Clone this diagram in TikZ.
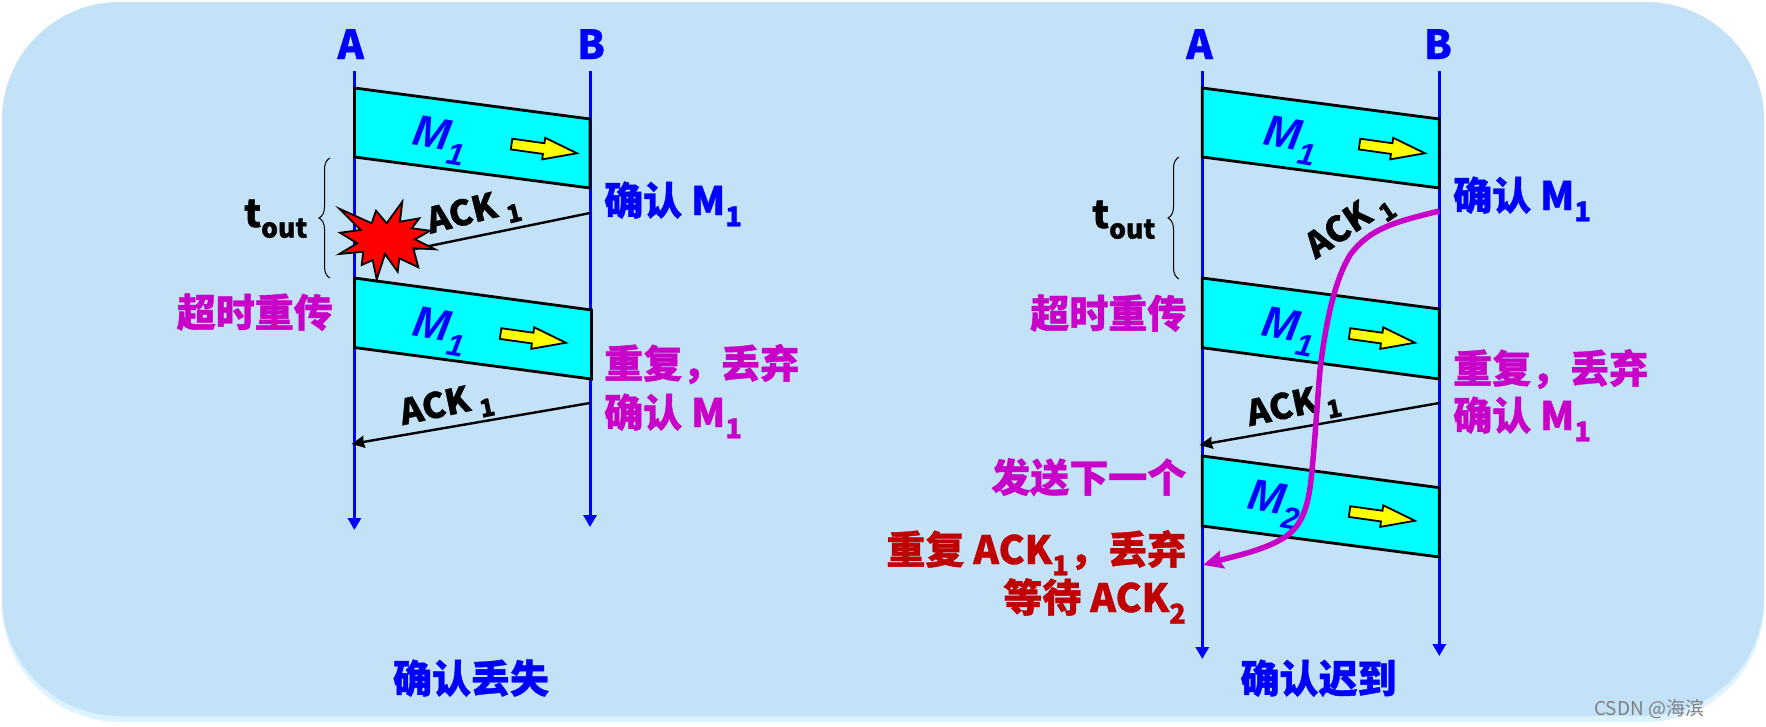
\documentclass[tikz,border=0pt]{standalone}
\usepackage{fontspec}
\setmainfont{Noto Sans CJK SC}[BoldFeatures={FakeBold=1}]
\newfontfamily\latinfont{Liberation Sans}
\usetikzlibrary{arrows.meta,shapes.arrows,decorations.pathreplacing}
\definecolor{panelblue}{HTML}{C3E2F7}
\definecolor{panelglow}{HTML}{DDF3FF}
\definecolor{labelpink}{HTML}{C800C8}
\definecolor{labelred}{HTML}{C00000}
\definecolor{linkblue}{HTML}{0000FF}
\definecolor{boxcyan}{HTML}{00FFFF}
\definecolor{markyellow}{HTML}{FFFF00}
\definecolor{burstred}{HTML}{FF0000}
\begin{document}
\begin{tikzpicture}[
      x=1pt, y=-1pt,
      every node/.style={inner sep=0pt, font=\fontsize{39}{44}\selectfont\bfseries},
      panel/.style={rounded corners=118pt, minimum width=1762pt},
      timeline/.style={draw=linkblue, line width=3pt, -{Triangle[length=12pt,width=13pt]}},
      msgbox/.style={draw=black, fill=boxcyan, line width=2.8pt, line join=miter},
      ackline/.style={draw=black, line width=2.4pt},
      ackarrow/.style={ackline, -{Stealth[length=13pt,width=12pt,inset=1pt]}},
      lateline/.style={draw=labelpink, line width=5.5pt, -{Stealth[length=20pt,width=18pt,inset=3pt]}},
      movemark/.style={draw=black, fill=markyellow, line width=1.8pt, single arrow, rotate=-8, inner sep=4.5pt,
        minimum height=66pt, single arrow head extend=5.5pt, single arrow tip angle=36},
      burst/.style={draw=black, fill=burstred, line width=1.8pt},
      timebrace/.style={draw=black, line width=1pt, decorate, decoration={brace, amplitude=11pt}},
      endname/.style={font=\fontsize{40}{46}\selectfont\bfseries, text=linkblue, anchor=base},
      msgname/.style={font=\latinfont\fontsize{44}{48}\selectfont\bfseries\itshape, text=linkblue, rotate=-10},
      acklabel/.style={font=\fontsize{35}{40}\selectfont\bfseries, text=black},
      toutlabel/.style={font=\fontsize{38}{44}\selectfont\bfseries, text=black, anchor=base west},
      bluelabel/.style={text=linkblue, anchor=base west},
      pinklabel/.style={text=labelpink, anchor=base west},
      pinkleft/.style={text=labelpink, anchor=base east},
      redleft/.style={text=labelred, anchor=base east}
    ]
      \useasboundingbox (0,0) rectangle (1766,726);

      % background
      \node[panel, fill=panelglow, minimum height=720pt] (panelback) at (883,362) {};
      \node[panel, fill=panelblue, minimum height=714pt] (panelfront) at (883,359) {};

      % left: lost ack
      \coordinate (aTop) at (354.4,71);
      \coordinate (aEnd) at (354.4,530);
      \coordinate (bTop) at (590,71);
      \coordinate (bEnd) at (590,527);
      \draw[timeline] (aTop) -- (aEnd);
      \draw[timeline] (bTop) -- (bEnd);
      \node[endname] (nameA) at (350.7,59) {A};
      \node[endname] (nameB) at (591,59) {B};

      \filldraw[msgbox] (354.4,88) -- (590,119) -- (590,188) -- (354.4,157) -- cycle;
      \filldraw[msgbox] (354.4,278) -- (591.5,310) -- (591.5,379) -- (354.4,347.5) -- cycle;
      \node[msgname] (msgA) at (440,141) {M\textsubscript{1}};
      \node[msgname] (msgB) at (440,332) {M\textsubscript{1}};
      \node[movemark] (moveA) at (536,147.5) {};
      \node[movemark] (moveB) at (525,337) {};

      \coordinate (lostStart) at (590,213);
      \coordinate (lostEnd) at (400,252);
      \draw[ackline] (lostStart) -- (lostEnd);
      \filldraw[burst] (339.3,208.7) -- (371.7,223.3) -- (376,210.7) -- (386.7,223.3) -- (402.3,201.7)
        -- (400,221.7) -- (419.3,218.3) -- (411.7,228.3) -- (430,230.7) -- (415,239.3) -- (435,249.3)
        -- (413.3,248.3) -- (418.3,267.3) -- (399.3,258.3) -- (397.7,271.7) -- (385,254) -- (376.7,279.3)
        -- (372.7,260) -- (361.7,265) -- (363.3,251.7) -- (339.3,254) -- (357.3,243.3) -- (340,232.7)
        -- (360.7,230) -- cycle;
      \node[acklabel, rotate=14] (lostAck) at (474,214) {ACK \textsubscript{1}};

      \coordinate (ackStart) at (590,403);
      \coordinate (ackEnd) at (351.5,444);
      \draw[ackarrow] (ackStart) -- (ackEnd);
      \node[acklabel, rotate=12] (ackA) at (447,407) {ACK \textsubscript{1}};

      \coordinate (braceLow) at (330,278);
      \coordinate (braceHigh) at (330,158);
      \draw[timebrace] (braceLow) -- (braceHigh);
      \node[toutlabel] (toutA) at (244,227) {t\textsubscript{out}};
      \node[bluelabel] (okA) at (604,215) {确认 M\textsubscript{1}};
      \node[pinkleft] (resendA) at (333,327) {超时重传};
      \node[pinklabel] (dropA) at (604,378) {重复，丢弃};
      \node[pinklabel] (againA) at (604,427) {确认 M\textsubscript{1}};
      \node[text=linkblue, anchor=base] (titleA) at (471,693) {确认丢失};

      % right: late ack
      \coordinate (cTop) at (1202.3,71);
      \coordinate (cEnd) at (1202.3,659);
      \coordinate (dTop) at (1439.3,71);
      \coordinate (dEnd) at (1439.3,656);
      \draw[timeline] (cTop) -- (cEnd);
      \draw[timeline] (dTop) -- (dEnd);
      \node[endname] (nameC) at (1199.5,59) {A};
      \node[endname] (nameD) at (1438,59) {B};

      \filldraw[msgbox] (1202.3,88) -- (1439.3,119) -- (1439.3,188) -- (1202.3,157) -- cycle;
      \filldraw[msgbox] (1202.3,278) -- (1439.3,309) -- (1439.3,379) -- (1202.3,347.7) -- cycle;
      \filldraw[msgbox] (1202.3,456) -- (1439.3,487.7) -- (1439.3,557) -- (1202.3,526) -- cycle;
      \node[msgname] (msgC) at (1291,141) {M\textsubscript{1}};
      \node[msgname] (msgD) at (1289,332) {M\textsubscript{1}};
      \node[msgname] (msgE) at (1275,505) {M\textsubscript{2}};
      \node[movemark] (moveC) at (1384,147.5) {};
      \node[movemark] (moveD) at (1374,337) {};
      \node[movemark] (moveE) at (1374,515) {};

      \coordinate (ackStartB) at (1439.3,403);
      \coordinate (ackEndB) at (1199.5,445);
      \draw[ackarrow] (ackStartB) -- (ackEndB);
      \node[acklabel, rotate=12] (ackC) at (1294,408) {ACK \textsubscript{1}};
      \node[acklabel, rotate=34] (ackD) at (1350,226) {ACK \textsubscript{1}};

      \coordinate (lateStart) at (1439.3,211);
      \coordinate (lateEnd) at (1203,565);
      \draw[lateline] (lateStart) .. controls (1395,222) and (1370,228) .. (1350,255)
        .. controls (1335,280) and (1326,320) .. (1320,370)
        .. controls (1317,405) and (1315,440) .. (1312,470)
        .. controls (1309,505) and (1303,525) .. (1285,537)
        .. controls (1265,550) and (1235,556) .. (lateEnd);

      \coordinate (braceLowB) at (1179,279);
      \coordinate (braceHighB) at (1179,157);
      \draw[timebrace] (braceLowB) -- (braceHighB);
      \node[toutlabel] (toutC) at (1092,228) {t\textsubscript{out}};
      \node[bluelabel] (okC) at (1453,210) {确认 M\textsubscript{1}};
      \node[pinkleft] (resendC) at (1186.5,328) {超时重传};
      \node[pinklabel] (dropC) at (1453,383) {重复，丢弃};
      \node[pinklabel] (againC) at (1453,430) {确认 M\textsubscript{1}};
      \node[pinkleft] (nextC) at (1186.5,492) {发送下一个};
      \node[redleft] (dupC) at (1186.5,564) {重复 ACK\textsubscript{1}，丢弃};
      \node[redleft] (waitC) at (1186.5,612) {等待 ACK\textsubscript{2}};
      \node[text=linkblue, anchor=base] (titleC) at (1318.5,693) {确认迟到};

      \node[anchor=base west, text=gray, font=\fontsize{19}{22}\selectfont] (mark) at (1594,715) {CSDN @海滨};
    \end{tikzpicture}
\end{document}
